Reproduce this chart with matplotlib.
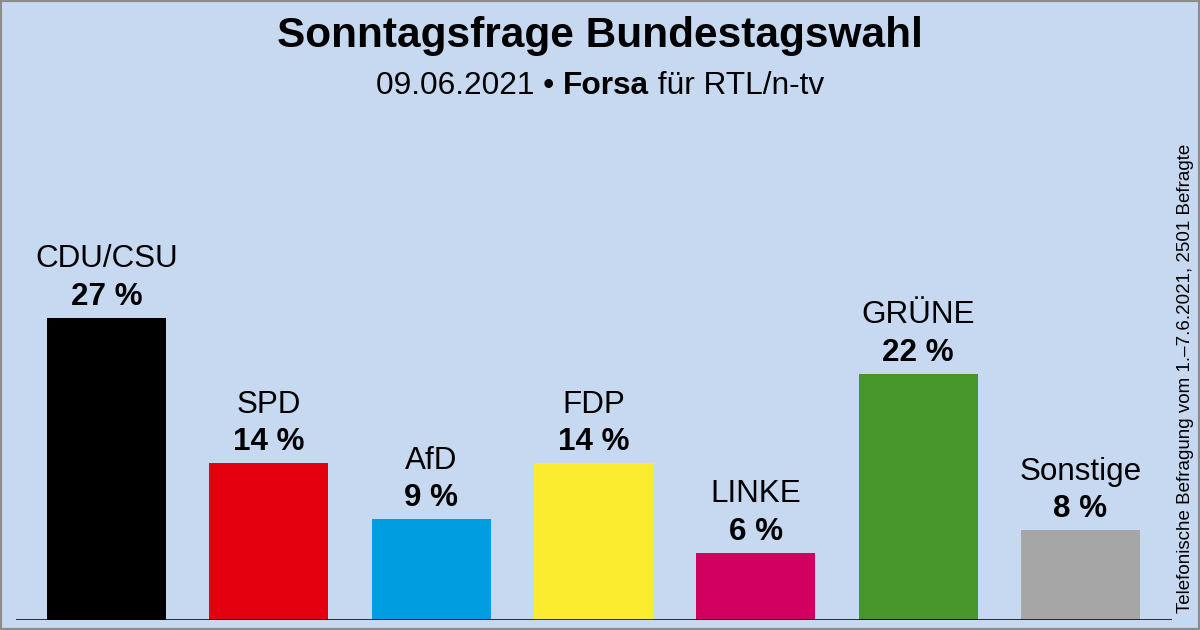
import matplotlib.pyplot as plt
from matplotlib.patches import Rectangle

plt.rcParams['font.family'] = ['Liberation Sans', 'DejaVu Sans']

parties = ['CDU/CSU', 'SPD', 'AfD', 'FDP', 'LINKE', 'GRÜNE', 'Sonstige']
values = [27, 14, 9, 14, 6, 22, 8]
colors = ['#000000', '#E3000F', '#009EE0', '#FCEC30', '#D10060', '#46962B', '#A6A6A6']

title = 'Sonntagsfrage Bundestagswahl'
sub_parts = ['09.06.2021 • ', 'Forsa', ' für RTL/n-tv']
side_note = 'Telefonische Befragung vom 1.–7.6.2021, 2501 Befragte'

bg = '#C6D9F1'
W, H = 1200, 630

fig = plt.figure(figsize=(12, 6.3), dpi=100, facecolor=bg)
ax = fig.add_axes([16 / W, 10 / H, (1172 - 16) / W, 490 / H])
ax.set_facecolor(bg)

x = range(len(parties))
ax.bar(x, values, width=0.733, color=colors, zorder=2)
ax.set_xlim(-0.5575, 6.5637)
ax.set_ylim(0, 43.75)
ax.axhline(0, color='black', lw=1.1, zorder=3)
for s in ax.spines.values():
    s.set_visible(False)
ax.set_xticks([])
ax.set_yticks([])

for i, (p, v) in enumerate(zip(parties, values)):
    ax.annotate(f'{v} %', (i, v), xytext=(0, 9.4), textcoords='offset points',
                ha='center', va='baseline', fontsize=22.6, fontweight='bold')
    ax.annotate(p, (i, v), xytext=(0, 36.5), textcoords='offset points',
                ha='center', va='baseline', fontsize=22.6)

fig.text(0.5, 1 - 46.7 / H, title, ha='center', va='baseline',
         fontsize=30.5, fontweight='bold')

# subtitle with bold middle part
renderer = fig.canvas.get_renderer()
ys = 1 - 94.3 / H
texts = []
for j, part in enumerate(sub_parts):
    t = fig.text(0, ys, part, ha='left', va='baseline', fontsize=22.8,
                 fontweight='bold' if j == 1 else 'normal')
    texts.append(t)
widths = [t.get_window_extent(renderer).width for t in texts]
start = (W - sum(widths)) / 2
for t, w in zip(texts, widths):
    t.set_x(start / W)
    start += w

fig.text(1186 / W, 1 - 378 / H, side_note, rotation=90, ha='center', va='center',
         fontsize=13.5)

fig.patches.append(Rectangle((0, 0), 1, 1, transform=fig.transFigure, fill=False,
                             edgecolor='#8C8C8C', lw=3))

fig.savefig('out.png', dpi=100, facecolor=bg)
